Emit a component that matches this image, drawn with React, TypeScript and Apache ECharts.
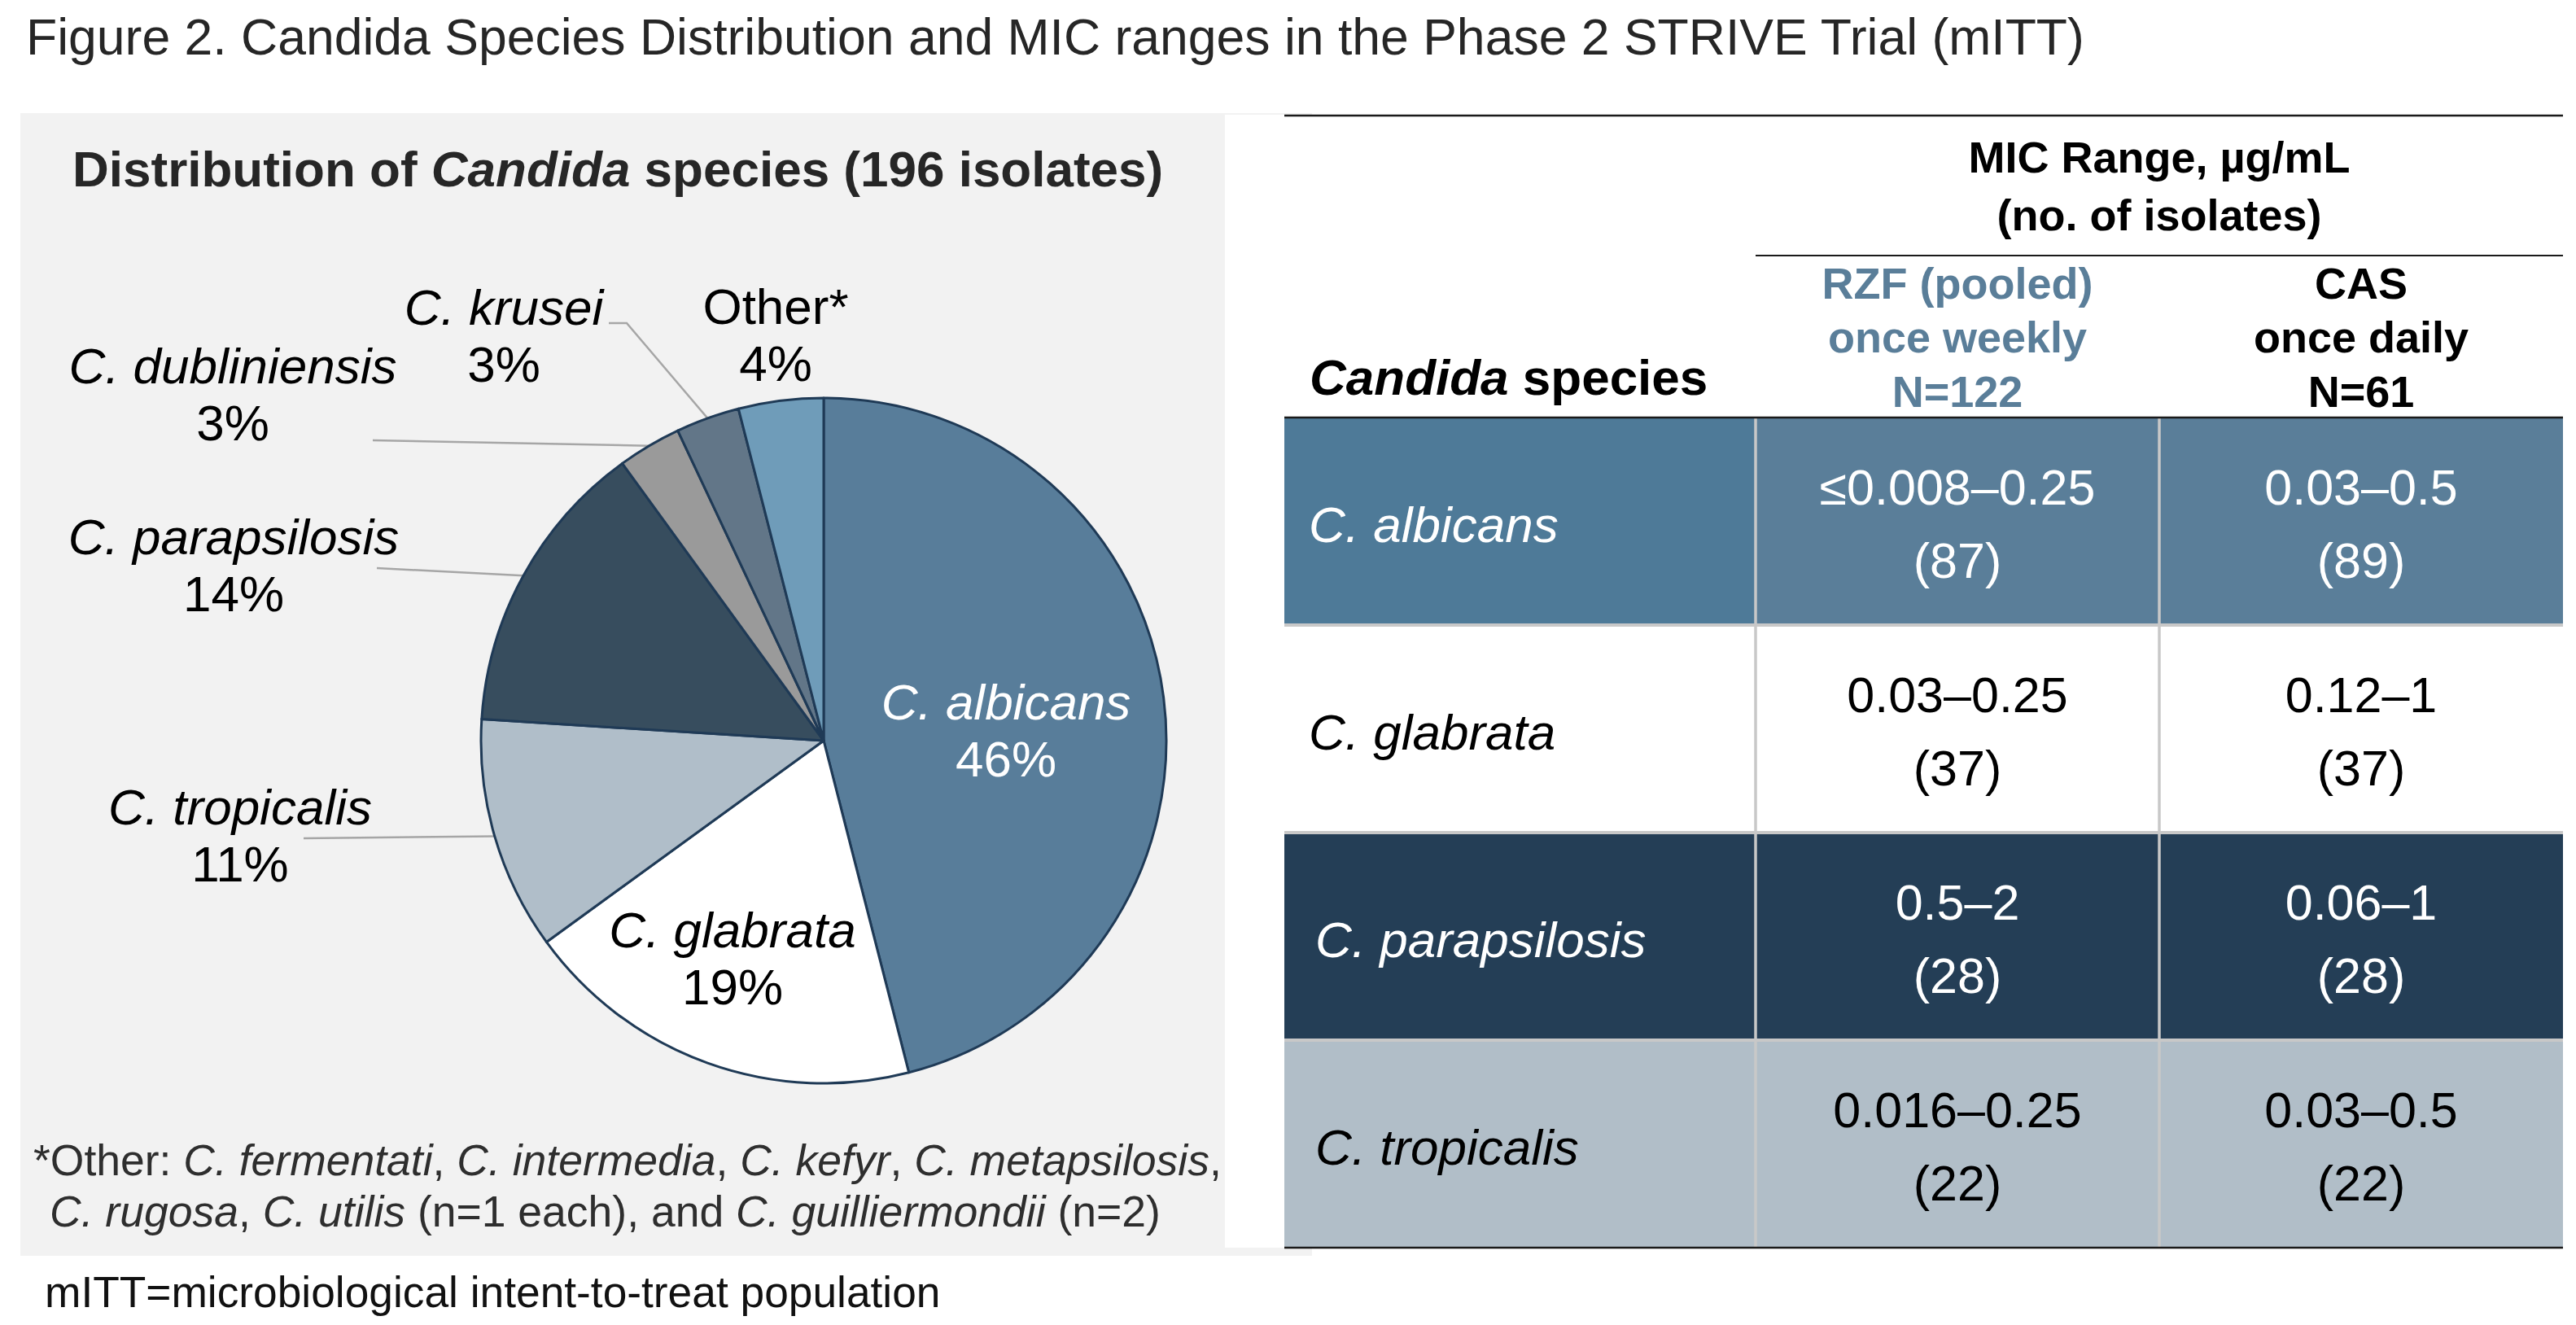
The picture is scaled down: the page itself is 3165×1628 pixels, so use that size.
import React, { useEffect, useRef } from 'react';
import * as echarts from 'echarts';

const FONT = '"Liberation Sans", Arial, Helvetica, sans-serif';

// ---- Pie data ----
const pieNames = ['C. albicans', 'C. glabrata', 'C. tropicalis', 'C. parapsilosis', 'C. dubliniensis', 'C. krusei', 'Other*'];
const piePercents = [46, 19, 11, 14, 3, 3, 4];
const pieItalic = [true, true, true, true, true, true, false];
const pieColors = ['#587D9A', '#FFFFFF', '#B0BEC9', '#374D5E', '#9A9A9A', '#627688', '#6F9CB9'];
const pieLabelColors = ['#FFFFFF', '#000000', '#000000', '#000000', '#000000', '#000000', '#000000'];

// label placement (layout only)
const pieLabelPos: number[][] = [[1236, 897], [900, 1177], [295, 1026], [287, 694], [286, 484], [619, 412], [953, 411]];
const pieLeaderTail: (number[][] | null)[] = [null, null, [[373, 1030]], [[463, 698]], [[458, 541]], [[770, 397], [748, 397]], null];

// ---- Table data ----
const tableSpecies = ['C. albicans', 'C. glabrata', 'C. parapsilosis', 'C. tropicalis'];
const rzfRange = ['≤0.008–0.25', '0.03–0.25', '0.5–2', '0.016–0.25'];
const rzfCount = [87, 37, 28, 22];
const casRange = ['0.03–0.5', '0.12–1', '0.06–1', '0.03–0.5'];
const casCount = [89, 37, 28, 22];
const rowFirstColColors = ['#4E7A98', '#FFFFFF', '#243E56', '#B1BEC8'];
const rowColors = ['#5A7E99', '#FFFFFF', '#243E56', '#B1BEC8'];
const rowTextColors = ['#FFFFFF', '#000000', '#FFFFFF', '#000000'];
const rowSpeciesIndent = [0, 0, 8, 8];

const headerRZF = ['RZF (pooled)', 'once weekly', 'N=122'];
const headerCAS = ['CAS', 'once daily', 'N=61'];

function text(x: number, y: number, t: string, o: any = {}) {
  return {
    type: 'text',
    x,
    y,
    silent: true,
    z: 20,
    style: {
      text: t,
      fontFamily: FONT,
      fontSize: o.fontSize ?? 60,
      fontWeight: o.fontWeight ?? 'normal',
      fontStyle: o.fontStyle ?? 'normal',
      fill: o.fill ?? '#000000',
      align: o.align ?? 'left',
      verticalAlign: 'middle',
      rich: o.rich,
    },
  };
}

function line(x1: number, y1: number, x2: number, y2: number, stroke: string, lineWidth: number) {
  return {
    type: 'line',
    silent: true,
    z: 15,
    shape: { x1, y1, x2, y2 },
    style: { stroke, lineWidth },
  };
}

export default function App() {
  const ref = useRef<HTMLDivElement>(null);

  useEffect(() => {
    const chart = echarts.init(ref.current!, null, { renderer: 'svg' });

    const T = { left: 1578, right: 3149, col1: 2157, col2: 2653, rowTop: 513, rowH: 255 };
    const colCenters = [(T.col1 + T.col2) / 2, (T.col2 + T.right) / 2];
    const graphics: any[] = [];

    // grey panel + white table backdrop
    graphics.push({ type: 'rect', silent: true, z: -5, shape: { x: 25, y: 139, width: 1587, height: 1404 }, style: { fill: '#F2F2F2' } });
    graphics.push({ type: 'rect', silent: true, z: -4, shape: { x: 1505, y: 141, width: 1660, height: 1392 }, style: { fill: '#FFFFFF' } });

    // titles
    graphics.push(text(32, 45, 'Figure 2. Candida Species Distribution and MIC ranges in the Phase 2 STRIVE Trial (mITT)', { fontSize: 62.5, fill: '#262626' }));
    graphics.push(text(89, 207, '{b|Distribution of }{bi|Candida}{b| species (196 isolates)}', {
      fontSize: 62,
      rich: {
        b: { fontFamily: FONT, fontSize: 62, fontWeight: 'bold', fill: '#262626' },
        bi: { fontFamily: FONT, fontSize: 62, fontWeight: 'bold', fontStyle: 'italic', fill: '#262626' },
      },
    }));

    // footnotes
    const fnRich = {
      n: { fontFamily: FONT, fontSize: 53.5, fill: '#2E2E2E' },
      i: { fontFamily: FONT, fontSize: 53.5, fontStyle: 'italic', fill: '#2E2E2E' },
    };
    graphics.push(text(41, 1425, '{n|*Other: }{i|C. fermentati}{n|, }{i|C. intermedia}{n|, }{i|C. kefyr}{n|, }{i|C. metapsilosis}{n|,}', { rich: fnRich }));
    graphics.push(text(61, 1488, '{i|C. rugosa}{n|, }{i|C. utilis}{n| (n=1 each), and }{i|C. guilliermondii}{n| (n=2)}', { rich: fnRich }));
    graphics.push(text(55, 1587, 'mITT=microbiological intent-to-treat population', { fontSize: 53.3, fill: '#111111' }));

    // table header
    graphics.push(line(T.left, 142, T.right, 142, '#1A1A1A', 2.5));
    graphics.push(text(colCenters[0] / 2 + colCenters[1] / 2, 193, 'MIC Range, µg/mL', { fontSize: 54, fontWeight: 'bold', align: 'center' }));
    graphics.push(text(colCenters[0] / 2 + colCenters[1] / 2, 264, '(no. of isolates)', { fontSize: 54, fontWeight: 'bold', align: 'center' }));
    graphics.push(line(T.col1, 314, T.right, 314, '#1A1A1A', 2));
    const hdrY = [348, 414, 481];
    headerRZF.forEach((t, k) => graphics.push(text(colCenters[0], hdrY[k], t, { fontSize: 54, fontWeight: 'bold', align: 'center', fill: '#5A7E99' })));
    headerCAS.forEach((t, k) => graphics.push(text(colCenters[1], hdrY[k], t, { fontSize: 54, fontWeight: 'bold', align: 'center', fill: '#000000' })));
    graphics.push(text(1609, 463, '{bi|Candida}{b| species}', {
      rich: {
        b: { fontFamily: FONT, fontSize: 62, fontWeight: 'bold', fill: '#000000' },
        bi: { fontFamily: FONT, fontSize: 62, fontWeight: 'bold', fontStyle: 'italic', fill: '#000000' },
      },
    }));

    // table body
    tableSpecies.forEach((sp, r) => {
      const top = T.rowTop + r * T.rowH;
      const cy = top + T.rowH / 2;
      graphics.push({ type: 'rect', silent: true, z: 10, shape: { x: T.left, y: top, width: T.col1 - T.left, height: T.rowH }, style: { fill: rowFirstColColors[r] } });
      graphics.push({ type: 'rect', silent: true, z: 10, shape: { x: T.col1, y: top, width: T.right - T.col1, height: T.rowH }, style: { fill: rowColors[r] } });
      const fill = rowTextColors[r];
      graphics.push(text(1608 + rowSpeciesIndent[r], cy + 4, sp, { fontSize: 62, fontStyle: 'italic', fill }));
      graphics.push(text(colCenters[0], cy - 42, rzfRange[r], { fontSize: 61, align: 'center', fill }));
      graphics.push(text(colCenters[0], cy + 48, `(${rzfCount[r]})`, { fontSize: 61, align: 'center', fill }));
      graphics.push(text(colCenters[1], cy - 42, casRange[r], { fontSize: 61, align: 'center', fill }));
      graphics.push(text(colCenters[1], cy + 48, `(${casCount[r]})`, { fontSize: 61, align: 'center', fill }));
    });
    const bottom = T.rowTop + tableSpecies.length * T.rowH;
    for (let r = 1; r < tableSpecies.length; r++) {
      const y = T.rowTop + r * T.rowH;
      graphics.push(line(T.left, y, T.right, y, '#C8C8C8', 4));
    }
    graphics.push(line(T.col1, T.rowTop, T.col1, bottom, '#C8C8C8', 3.5));
    graphics.push(line(T.col2, T.rowTop, T.col2, bottom, '#C8C8C8', 3.5));
    graphics.push(line(T.left, T.rowTop, T.right, T.rowTop, '#1A1A1A', 2.5));
    graphics.push(line(T.left, bottom, T.right, bottom, '#1A1A1A', 2.5));

    const option: any = {
      animation: false,
      backgroundColor: '#FFFFFF',
      graphic: { elements: graphics },
      series: [
        {
          type: 'pie',
          center: [1012, 910],
          radius: [0, 421],
          startAngle: 90,
          clockwise: true,
          avoidLabelOverlap: false,
          silent: true,
          z: 5,
          itemStyle: { borderColor: '#1F3A56', borderWidth: 3 },
          emphasis: { disabled: true },
          label: {
            show: true,
            position: 'outside',
            fontFamily: FONT,
            fontSize: 62,
            lineHeight: 70,
            formatter: (p: any) => `{${pieItalic[p.dataIndex] ? 'i' : 'r'}|${p.name}}\n{r|${p.value}%}`,
            rich: {
              i: { fontFamily: FONT, fontSize: 62, lineHeight: 70, fontStyle: 'italic' },
              r: { fontFamily: FONT, fontSize: 62, lineHeight: 70 },
            },
          },
          labelLine: { show: true, length: 20, length2: 20, lineStyle: { color: '#A6A6A6', width: 2.5 } },
          labelLayout: (params: any) => {
            const i = params.dataIndex;
            const pos = pieLabelPos[i];
            const out: any = { x: pos[0], y: pos[1], align: 'center', verticalAlign: 'middle' };
            const tail = pieLeaderTail[i];
            if (tail && params.labelLinePoints) {
              out.labelLinePoints = [params.labelLinePoints[0], ...tail];
            }
            return out;
          },
          data: pieNames.map((name, i) => ({
            name,
            value: piePercents[i],
            itemStyle: { color: pieColors[i] },
            label: { color: pieLabelColors[i] },
            labelLine: { show: pieLeaderTail[i] !== null },
          })),
        },
      ],
    };

    chart.setOption(option);
    return () => chart.dispose();
  }, []);

  return (
    <div
      ref={ref}
      style={{ position: 'absolute', left: 0, top: 0, width: 3165, height: 1628, background: '#FFFFFF' }}
    />
  );
}
